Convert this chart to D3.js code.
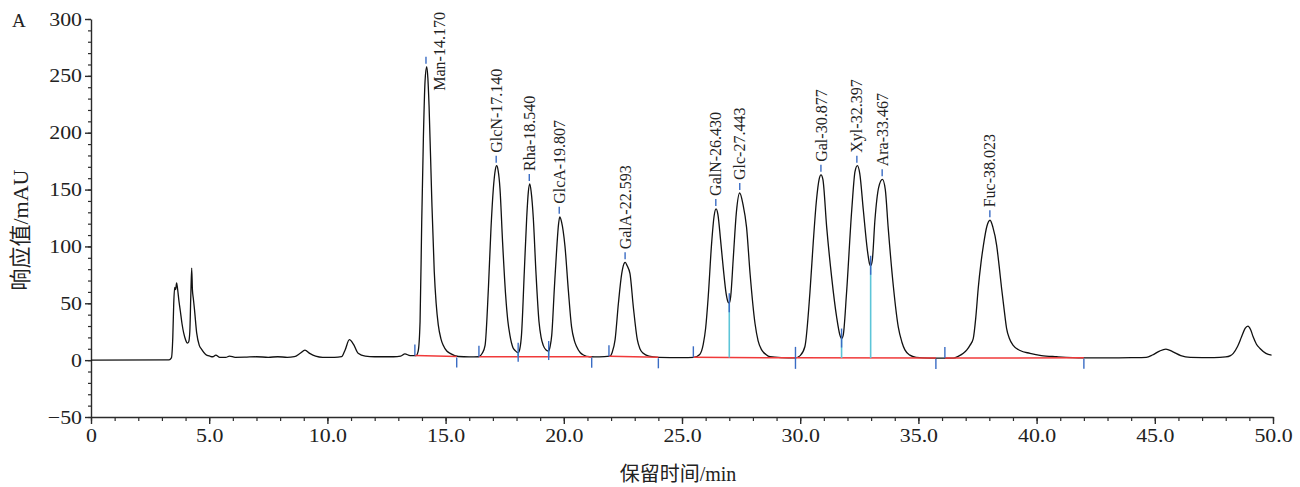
<!DOCTYPE html>
<html>
<head>
<meta charset="utf-8">
<script src="https://cdn.jsdelivr.net/npm/d3@7"></script>
<style>
  html, body { margin: 0; padding: 0; background: #fff; }
  svg text { font-family: "Liberation Serif", "Noto Sans CJK SC", serif; }
</style>
</head>
<body>
<div id="grafico"></div>
<script>
// Chromatogram trace (retention time / min, response / mAU)
const traceTime = [
  0, 3.3, 3.4, 3.46, 3.5, 3.54, 3.58, 3.62, 3.66, 3.72, 3.78, 3.85, 3.92, 4.0, 4.08, 4.13, 4.18, 4.22, 4.26, 4.29,
  4.33, 4.38, 4.47, 4.58, 4.68, 4.85, 5.03, 5.15, 5.28, 5.45, 5.7, 5.86, 6.1, 6.5, 7.0, 7.5, 7.9, 8.3, 8.6, 8.85,
  9.05, 9.25, 9.5, 9.8, 10.3, 10.6, 10.75, 10.93, 11.1, 11.3, 11.6, 12.0, 12.8, 13.1, 13.28, 13.5, 13.75, 13.84, 13.92, 13.99,
  14.06, 14.13, 14.2, 14.25, 14.3, 14.41, 14.52, 14.6, 14.69, 14.8, 14.9, 15.05, 15.19, 15.54, 16.0, 16.4, 16.55, 16.67, 16.81, 16.92,
  17.02, 17.1, 17.16, 17.22, 17.3, 17.41, 17.54, 17.63, 17.72, 17.85, 17.94, 18.07, 18.14, 18.21, 18.33, 18.43, 18.5, 18.56, 18.62, 18.71,
  18.82, 18.95, 19.04, 19.13, 19.25, 19.36, 19.42, 19.49, 19.6, 19.7, 19.78, 19.83, 19.9, 20.05, 20.19, 20.33, 20.45, 20.54, 20.7, 20.83,
  21.1, 21.5, 21.95, 22.05, 22.17, 22.31, 22.45, 22.55, 22.6, 22.68, 22.8, 22.94, 23.11, 23.22, 23.36, 23.6, 24.0, 25.0, 25.5, 25.75,
  25.9, 26.0, 26.11, 26.25, 26.36, 26.44, 26.52, 26.63, 26.75, 26.87, 26.95, 27.0, 27.06, 27.17, 27.3, 27.44, 27.58, 27.73, 27.88, 28.09,
  28.22, 28.37, 28.55, 28.72, 29.2, 29.8, 30.0, 30.2, 30.41, 30.55, 30.69, 30.8, 30.88, 30.96, 31.12, 31.33, 31.54, 31.68, 31.75, 31.82,
  31.96, 32.18, 32.32, 32.42, 32.52, 32.67, 32.84, 32.93, 32.98, 33.05, 33.16, 33.32, 33.48, 33.6, 33.72, 33.94, 34.15, 34.3, 34.43, 34.64,
  34.9, 35.5, 36.48, 36.7, 36.9, 37.05, 37.18, 37.32, 37.43, 37.53, 37.65, 37.75, 37.9, 38.03, 38.15, 38.31, 38.42, 38.52, 38.63, 38.73,
  38.85, 39.01, 39.3, 39.72, 40.2, 40.85, 41.97, 43.0, 44.0, 44.64, 44.9, 45.2, 45.47, 45.75, 46.1, 46.5, 47.5, 48.0, 48.2, 48.32,
  48.5, 48.67, 48.82, 48.94, 49.05, 49.16, 49.3, 49.45, 49.7, 49.94
];
const traceValue = [
  0, 0.3, 2, 20, 50, 64, 62, 68, 63, 52, 43, 32, 24, 18, 15, 16, 25, 55, 81, 62,
  54, 44, 24, 13, 9.5, 5, 3.5, 3, 4.5, 2.5, 2.5, 3.5, 2.5, 2.6, 3, 2.5, 3, 2.5, 3, 6,
  8.8, 6, 3.5, 2.5, 2.5, 3, 9, 18, 14, 6, 3.5, 3, 3, 3.5, 5.5, 4, 4, 8, 34, 122,
  195, 245, 258, 248, 224, 145, 78, 50, 31, 19, 13, 8, 6, 3.2, 2.8, 3, 6, 13, 63, 116,
  151, 167, 171, 167, 151, 104, 57, 35, 22, 11, 8.5, 6.5, 10, 22, 78, 125, 148, 155, 148, 125,
  78, 34, 20, 13, 9, 8, 12, 22, 63, 98, 120, 126, 122, 100, 62, 29, 17, 12, 6.5, 4.5,
  3, 2.8, 3.5, 7, 18, 50, 76, 85, 86, 83, 76, 47, 18, 10, 6, 3.5, 2.5, 2.3, 2.5, 5,
  14, 28, 56, 102, 127, 133, 128, 106, 80, 58, 51, 50, 56, 90, 130, 147, 137, 117, 76, 32,
  17, 9, 5, 3, 2.2, 2, 4, 12, 59, 103, 141, 159, 163, 159, 117, 73, 38, 22, 19, 22,
  59, 132, 166, 171, 164, 132, 97, 85, 83, 88, 123, 152, 159, 150, 117, 65, 29, 16, 9, 4.4,
  2.5, 1.8, 1.8, 3.5, 6, 9, 13, 19, 38, 63, 86, 101, 118, 123, 117, 101, 82, 63, 44, 28,
  19, 13, 8.5, 6, 4, 3, 2, 2, 2.2, 2.5, 4.5, 8, 9.7, 7.5, 4, 2.5, 2.3, 2.8, 4, 6,
  12, 20.5, 28, 30, 27, 20.5, 14, 10.3, 6, 4.4
];

// Identified peaks
const peakNames = ['Man', 'GlcN', 'Rha', 'GlcA', 'GalA', 'GalN', 'Glc', 'Gal', 'Xyl', 'Ara', 'Fuc'];
const peakTimes = ['14.170', '17.140', '18.540', '19.807', '22.593', '26.430', '27.443', '30.877', '32.397', '33.467', '38.023'];
const peakHeights = [258, 171, 155, 126, 86, 133, 147, 163, 171, 159, 123];

// Integration baselines (start / end time and response)
const baseStart = [13.7, 16.41, 21.91, 25.48, 29.8, 36.12];
const baseStartValue = [4, 3, 3.5, 2.5, 2, 1.8];
const baseEnd = [15.47, 21.18, 24.0, 29.8, 35.74, 42.0];
const baseEndValue = [3.2, 3, 2.5, 2, 1.8, 2];

// Valley drop lines
const valleyTimes = [18.07, 19.36, 27.0, 31.75, 32.98];
const valleyValues = [6.5, 8, 50, 19, 83];
const valleyBase = [3, 3, 2.3, 1.9, 1.85];

// Axis ticks
const xTicks = [0, 5, 10, 15, 20, 25, 30, 35, 40, 45, 50];
const xTickLabels = ['0', '5.0', '10.0', '15.0', '20.0', '25.0', '30.0', '35.0', '40.0', '45.0', '50.0'];
const yTicks = [-50, 0, 50, 100, 150, 200, 250, 300];
const yTickLabels = ['\u221250', '0', '50', '100', '150', '200', '250', '300'];

// Chart setup
const largura = 1300;
const altura = 487;
const margem = { topo: 19, direita: 27, baixo: 70, esquerda: 91 };

const svg = d3.select('#grafico')
  .append('svg')
  .attr('width', largura)
  .attr('height', altura);

const x = d3.scaleLinear()
  .domain([0, 50])
  .range([margem.esquerda, largura - margem.direita]);

const y = d3.scaleLinear()
  .domain([-50, 300])
  .range([altura - margem.baixo, margem.topo]);

const corEixo = '#2b2b2b';
const azul = '#3a6cc4';
const ciano = '#5cc5d8';
const vermelho = '#f03a3a';

// stretch tick labels horizontally (the reference digits are wide)
function alargar(sel, k) {
  sel.each(function() {
    const w = this.getComputedTextLength();
    d3.select(this).attr('textLength', w * k).attr('lengthAdjust', 'spacingAndGlyphs');
  });
}

// Minor ticks
svg.append('g')
  .attr('transform', `translate(${margem.esquerda},0)`)
  .call(d3.axisLeft(y).tickValues(d3.range(-50, 301, 10)).tickSize(3).tickSizeOuter(0).tickFormat(''))
  .call(g => g.select('.domain').remove())
  .call(g => g.selectAll('line').attr('stroke', corEixo).attr('stroke-width', 1.2));

svg.append('g')
  .attr('transform', `translate(0,${y(-50)})`)
  .call(d3.axisBottom(x).tickValues(d3.range(0, 51, 1)).tickSize(4).tickSizeOuter(0).tickFormat(''))
  .call(g => g.select('.domain').remove())
  .call(g => g.selectAll('line').attr('stroke', corEixo).attr('stroke-width', 1.2));

// Major axes
const eixoY = svg.append('g')
  .attr('transform', `translate(${margem.esquerda},0)`)
  .call(d3.axisLeft(y).tickValues(yTicks).tickSize(6).tickSizeOuter(0).tickPadding(3)
    .tickFormat((d, i) => yTickLabels[i]));
eixoY.select('.domain').attr('stroke', corEixo).attr('stroke-width', 1.4);
eixoY.selectAll('line').attr('stroke', corEixo).attr('stroke-width', 1.4);
eixoY.selectAll('text').attr('font-size', 19).attr('fill', '#222')
  .attr('font-family', '"Liberation Serif", serif').call(alargar, 1.15);

const eixoX = svg.append('g')
  .attr('transform', `translate(0,${y(-50)})`)
  .call(d3.axisBottom(x).tickValues(xTicks).tickSize(7).tickSizeOuter(0).tickPadding(5)
    .tickFormat((d, i) => xTickLabels[i]));
eixoX.select('.domain').attr('stroke', corEixo).attr('stroke-width', 1.4);
eixoX.selectAll('line').attr('stroke', corEixo).attr('stroke-width', 1.4);
eixoX.selectAll('text').attr('font-size', 19).attr('fill', '#222')
  .attr('font-family', '"Liberation Serif", serif').call(alargar, 1.15);

// Trace
const dados = traceTime.map((t, i) => ({ t: t, v: traceValue[i] }));
const linha = d3.line()
  .x(d => x(d.t))
  .y(d => y(d.v))
  .curve(d3.curveMonotoneX);

svg.append('path')
  .datum(dados)
  .attr('fill', 'none')
  .attr('stroke', '#111')
  .attr('stroke-width', 1.3)
  .attr('d', linha);

// Integration baselines
baseStart.forEach((t0, i) => {
  svg.append('line')
    .attr('x1', x(t0)).attr('y1', y(baseStartValue[i]))
    .attr('x2', x(baseEnd[i])).attr('y2', y(baseEndValue[i]))
    .attr('stroke', vermelho).attr('stroke-width', 1.5);
});

// Valley drop lines
valleyTimes.forEach((t, i) => {
  svg.append('line')
    .attr('x1', x(t)).attr('x2', x(t))
    .attr('y1', y(valleyBase[i])).attr('y2', y(valleyValues[i]))
    .attr('stroke', ciano).attr('stroke-width', 1.6);
  svg.append('line')
    .attr('x1', x(t)).attr('x2', x(t))
    .attr('y1', y(valleyValues[i]) - 10).attr('y2', y(valleyValues[i]) + 9)
    .attr('stroke', azul).attr('stroke-width', 1.4);
});

// Start / end markers
baseStart.forEach((t, i) => {
  const yy = y(baseStartValue[i]);
  const span = baseEnd.includes(t);
  svg.append('line')
    .attr('x1', x(t)).attr('x2', x(t))
    .attr('y1', yy - 11).attr('y2', span ? yy + 11 : yy)
    .attr('stroke', azul).attr('stroke-width', 1.4);
});
baseEnd.forEach((t, i) => {
  if (baseStart.includes(t)) return;
  const yy = y(baseEndValue[i]);
  svg.append('line')
    .attr('x1', x(t)).attr('x2', x(t))
    .attr('y1', yy + 1).attr('y2', yy + 11)
    .attr('stroke', azul).attr('stroke-width', 1.4);
});

// Peak labels
peakNames.forEach((nome, i) => {
  const px = x(+peakTimes[i]);
  const py = y(peakHeights[i]);
  svg.append('line')
    .attr('x1', px).attr('x2', px)
    .attr('y1', py - 10).attr('y2', py - 3)
    .attr('stroke', azul).attr('stroke-width', 1.4);
  const txt = svg.append('text')
    .attr('font-size', 16)
    .attr('fill', '#222')
    .attr('dy', '0.35em')
    .text(`${nome}-${peakTimes[i]}`);
  const comp = txt.node().getComputedTextLength();
  if (py - 13 - comp < 4) {
    // not enough room above: put it beside the peak
    txt.attr('transform', `translate(${px + 13},${py + 24}) rotate(-90)`);
  } else {
    txt.attr('transform', `translate(${px},${py - 13}) rotate(-90)`);
  }
});

// Titles
svg.append('text')
  .attr('x', 12)
  .attr('y', 27)
  .attr('font-size', 19)
  .attr('fill', '#222')
  .text('A');

svg.append('text')
  .attr('transform', `translate(28,${230}) rotate(-90)`)
  .attr('text-anchor', 'middle')
  .attr('font-size', 22)
  .attr('fill', '#222')
  .text('响应值/mAU');

svg.append('text')
  .attr('x', 678)
  .attr('y', 481)
  .attr('text-anchor', 'middle')
  .attr('font-size', 20)
  .attr('fill', '#222')
  .text('保留时间/min');
</script>
</body>
</html>
